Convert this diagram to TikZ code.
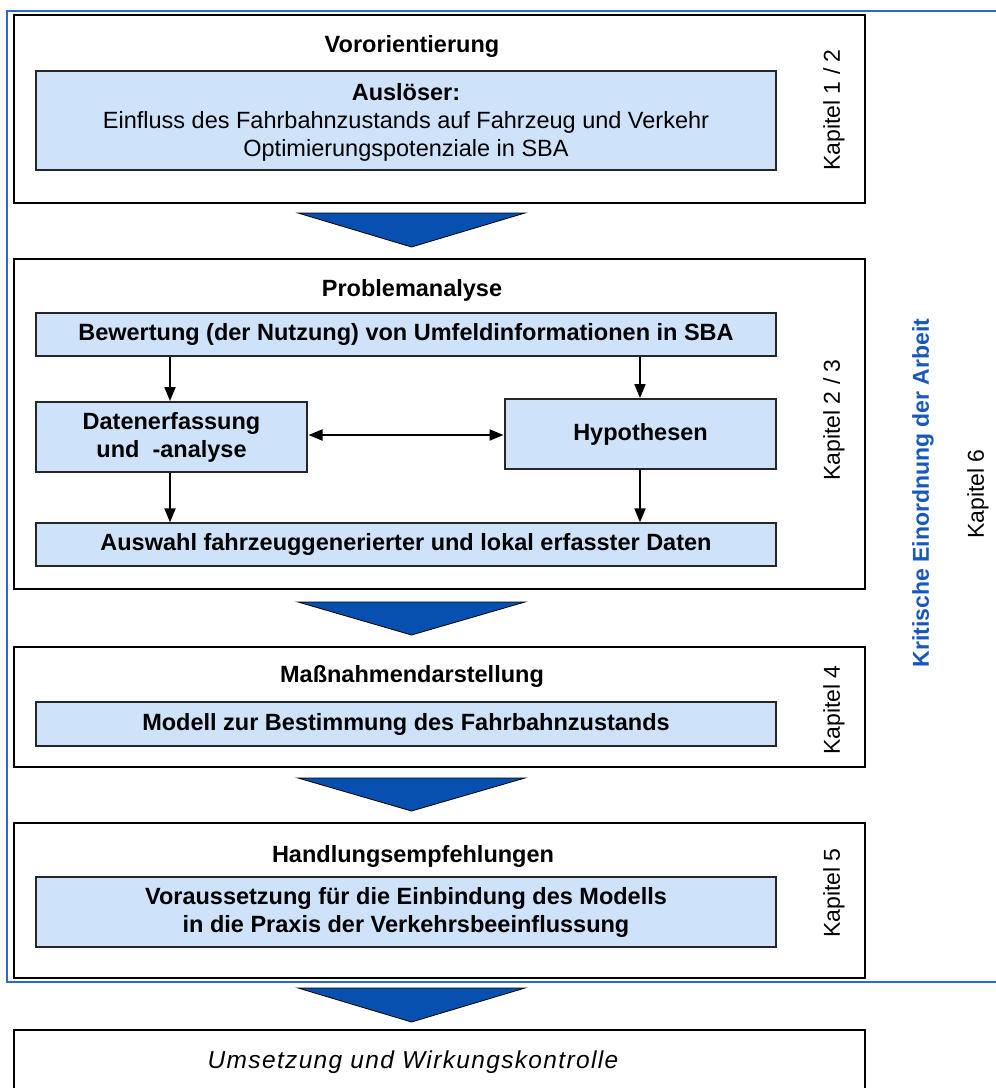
\documentclass[tikz,border=0pt]{standalone}
\usepackage{fontspec}
\setmainfont{Liberation Sans}
\usetikzlibrary{arrows.meta}
\definecolor{framebl}{RGB}{45,105,200}
\definecolor{arrbl}{RGB}{8,80,176}
\definecolor{boxfill}{RGB}{206,226,250}
\definecolor{txtbl}{RGB}{22,88,188}
\begin{document}
\begin{tikzpicture}[x=1pt,y=-1pt,
  stagebox/.style={draw=black,line width=1.6pt,fill=white,inner sep=0pt},
  innerbox/.style={draw=black!85,line width=1.3pt,fill=boxfill,inner sep=0pt,
    align=center,font=\fontsize{23.5}{28}\selectfont\bfseries},
  plain/.style={font=\fontsize{23.5}{28}\selectfont,align=center},
  heading/.style={font=\fontsize{23.5}{28}\selectfont\bfseries},
  chapter/.style={font=\fontsize{23}{26}\selectfont,rotate=90},
  flow/.style={line width=2pt,-{Triangle[length=14pt,width=11pt]}},
  bothflow/.style={line width=2pt,{Triangle[length=14pt,width=11pt]}-{Triangle[length=14pt,width=11pt]}},
  stagearrow/.style={draw=black,line width=0.8pt,fill=arrbl}
]
\useasboundingbox (0,0) rectangle (996,1088);
\clip (0,0) rectangle (996,1088);

% stage 1
\node[stagebox,minimum width=851,minimum height=188] (s1) at (439.5,109) {};
\node[heading] (t1) at (412,46) {Vororientierung};
\node[innerbox,minimum width=740,minimum height=99] (b1) at (406,120.5) {};
\node[plain] (b1t) at (406,122) {\textbf{Auslöser:}\\Einfluss des Fahrbahnzustands auf Fahrzeug und Verkehr\\Optimierungspotenziale in SBA};
\node[chapter] (k1) at (834,110) {Kapitel 1 / 2};

\filldraw[stagearrow] (298,213) -- (525,213) -- (411.5,247) -- cycle;

% stage 2
\node[stagebox,minimum width=851,minimum height=330] (s2) at (439.5,424) {};
\node[heading] (t2) at (412,290) {Problemanalyse};
\node[innerbox,minimum width=740,minimum height=43] (bew) at (406,334.5) {Bewertung (der Nutzung) von Umfeldinformationen in SBA};
\node[innerbox,minimum width=271,minimum height=70] (dat) at (171.5,437) {Datenerfassung\\und\ \ -analyse};
\node[innerbox,minimum width=271,minimum height=70] (hyp) at (640.5,434) {Hypothesen};
\node[innerbox,minimum width=740,minimum height=43] (aus) at (406,544.5) {Auswahl fahrzeuggenerierter und lokal erfasster Daten};
\node[chapter] (k2) at (834,420) {Kapitel 2 / 3};

\draw[flow] (bew.south -| 170,0) -- (170,401);
\draw[flow] (bew.south -| 640,0) -- (640,398);
\draw[bothflow] (308.5,435) -- (503.5,435);
\draw[flow] (170,473) -- (aus.north -| 170,0);
\draw[flow] (640,470) -- (aus.north -| 640,0);

\filldraw[stagearrow] (298,602) -- (525,602) -- (411.5,635) -- cycle;

% stage 3
\node[stagebox,minimum width=851,minimum height=120] (s3) at (439.5,707) {};
\node[heading] (t3) at (412,676) {Maßnahmendarstellung};
\node[innerbox,minimum width=740,minimum height=44] (mod) at (406,724) {Modell zur Bestimmung des Fahrbahnzustands};
\node[chapter] (k3) at (834,710) {Kapitel 4};

\filldraw[stagearrow] (298,778) -- (525,778) -- (411.5,811) -- cycle;

% stage 4
\node[stagebox,minimum width=851,minimum height=155] (s4) at (439.5,900.5) {};
\node[heading] (t4) at (413,856) {Handlungsempfehlungen};
\node[innerbox,minimum width=740,minimum height=70] (vor) at (406,912) {Voraussetzung für die Einbindung des Modells\\in die Praxis der Verkehrsbeeinflussung};
\node[chapter] (k4) at (834,893) {Kapitel 5};

% frame of the critical review
\draw[framebl,line width=1.4pt] (996,11) -- (7,11) -- (7,982) -- (996,982);
\node[font=\fontsize{23}{26}\selectfont\bfseries,text=txtbl,rotate=90] (krit) at (923,493) {Kritische Einordnung der Arbeit};
\node[chapter] (k6) at (978,494) {Kapitel 6};

\filldraw[stagearrow] (298,988) -- (525,988) -- (411.5,1022) -- cycle;

% stage 5
\node[stagebox,minimum width=851,minimum height=90] (s5) at (439.5,1075) {};
\node[plain,font=\fontsize{24.5}{28}\selectfont\itshape\addfontfeatures{LetterSpace=5.5}] (t5) at (413,1062) {Umsetzung und Wirkungskontrolle};
\end{tikzpicture}
\end{document}
